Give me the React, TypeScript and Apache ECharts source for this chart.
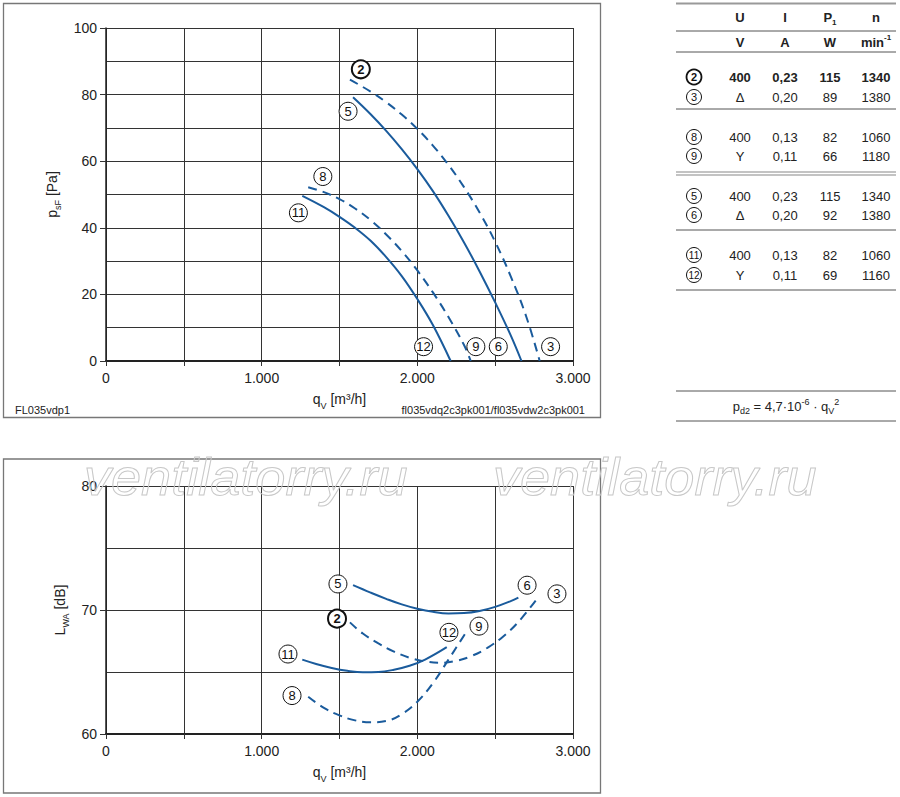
import React, { useEffect, useRef } from 'react';
import * as echarts from 'echarts';

const FONT = '"Liberation Sans", Arial, sans-serif';
const BLUE = '#1a5b9c';
const INK = '#222';

// ---------- axis ticks ----------
const Q_MIN = 0;
const Q_MAX = 3000;
const Q_STEP = 1000;
const P_MIN = 0;
const P_MAX = 100;
const P_STEP = 20;
const L_MIN = 60;
const L_MAX = 80;
const L_STEP = 10;

// ---------- top chart: static pressure psF [Pa] vs qV [m³/h] ----------
const PRESS_2 = [[1567, 84.5], [1700, 80.9], [1800, 77.7], [1900, 74.0], [2000, 69.7], [2100, 64.7], [2200, 58.9], [2300, 52.2], [2400, 44.6], [2500, 35.8], [2600, 25.4], [2700, 13.3], [2786, 0]];
const PRESS_5 = [[1587, 79.2], [1700, 74.1], [1800, 69.1], [1900, 63.6], [2000, 57.6], [2100, 51.0], [2200, 43.6], [2300, 35.6], [2400, 26.9], [2500, 17.6], [2600, 7.7], [2669, 0]];
const PRESS_8 = [[1299, 52.2], [1400, 50.7], [1500, 48.6], [1600, 45.8], [1700, 42.3], [1800, 38.0], [1900, 33.0], [2000, 27.2], [2100, 20.6], [2200, 13.2], [2300, 4.8], [2343, 0]];
const PRESS_11 = [[1261, 49.6], [1400, 46.2], [1500, 43.3], [1600, 40.0], [1700, 36.1], [1800, 31.2], [1900, 25.5], [2000, 18.6], [2100, 10.8], [2214, 0]];
const PRESS_LABELS = [[1555, 75, '5'], [1393, 55.4, '8'], [1236, 44.5, '11'], [2040, 4.3, '12'], [2376, 4.3, '9'], [2520, 4.3, '6'], [2856, 4.3, '3']];
const PRESS_LABELS_BOLD = [[1637, 87.6, '2']];

// ---------- bottom chart: sound power LWA [dB] vs qV [m³/h] ----------
const SOUND_5 = [[1587, 72.0], [1700, 71.4], [1800, 70.9], [1900, 70.45], [2000, 70.1], [2100, 69.85], [2200, 69.72], [2300, 69.75], [2400, 69.92], [2500, 70.25], [2600, 70.72], [2649, 71.0]];
const SOUND_2 = [[1567, 69.0], [1650, 68.1], [1750, 67.3], [1850, 66.65], [1950, 66.15], [2050, 65.85], [2150, 65.75], [2250, 65.9], [2350, 66.3], [2450, 66.95], [2550, 67.85], [2650, 69.05], [2781, 71.1]];
const SOUND_11 = [[1261, 66.0], [1350, 65.65], [1450, 65.33], [1550, 65.1], [1650, 64.98], [1750, 65.0], [1850, 65.18], [1950, 65.5], [2050, 66.0], [2189, 67.0]];
const SOUND_8 = [[1299, 63.0], [1400, 62.1], [1500, 61.5], [1600, 61.1], [1700, 60.95], [1800, 61.05], [1900, 61.6], [2000, 62.6], [2100, 64.1], [2200, 66.0], [2300, 67.95], [2326, 68.45]];
const SOUND_LABELS = [[1490, 72.1, '5'], [2705, 72.0, '6'], [2897, 71.3, '3'], [2203, 68.2, '12'], [2396, 68.7, '9'], [1169, 66.45, '11'], [1195, 63.1, '8']];
const SOUND_LABELS_BOLD = [[1484, 69.3, '2']];

// ---------- table ----------
const TABLE_HEAD = ['U', 'I', 'P1', 'n'];
const TABLE_UNITS = ['V', 'A', 'W', 'min-1'];
const TABLE_IDS = ['2', '3', '8', '9', '5', '6', '11', '12'];
const TABLE_U = ['400', 'Δ', '400', 'Y', '400', 'Δ', '400', 'Y'];
const TABLE_I = ['0,23', '0,20', '0,13', '0,11', '0,23', '0,20', '0,13', '0,11'];
const TABLE_P = ['115', '89', '82', '66', '115', '92', '82', '69'];
const TABLE_N = ['1340', '1380', '1060', '1180', '1340', '1380', '1060', '1160'];
const BOLD_ROWS = [0];

const qFormat = (v: number) => (v === 0 ? '0' : `${Math.round(v / 1000)}.000`);

function makeX(gridIndex: number) {
  return {
    type: 'value',
    gridIndex,
    min: Q_MIN,
    max: Q_MAX,
    interval: Q_STEP,
    position: 'bottom',
    axisLine: { show: true, lineStyle: { color: INK, width: 2 } },
    axisTick: { show: true, length: 5, lineStyle: { color: '#333' } },
    minorTick: { show: true, splitNumber: 2, length: 5, lineStyle: { color: '#333' } },
    splitLine: { show: true, lineStyle: { color: '#333', width: 1 } },
    minorSplitLine: { show: true, lineStyle: { color: '#333', width: 1 } },
    axisLabel: { formatter: qFormat, fontSize: 14, color: INK, margin: 10, fontFamily: FONT, showMaxLabel: true, showMinLabel: true },
    name: '{a|q}{s|V}{a| [m³/h]}',
    nameLocation: 'middle',
    nameGap: 31,
    nameTextStyle: {
      fontFamily: FONT,
      rich: {
        a: { fontSize: 14, color: INK, fontFamily: FONT, lineHeight: 18, verticalAlign: 'top' },
        s: { fontSize: 9, color: INK, fontFamily: FONT, lineHeight: 10, verticalAlign: 'bottom' },
      },
    },
  };
}

function makeY(gridIndex: number, min: number, max: number, step: number, main: string, sub: string, unit: string) {
  return {
    type: 'value',
    gridIndex,
    min,
    max,
    interval: step,
    axisLine: { show: true, lineStyle: { color: INK, width: 1.5 } },
    axisTick: { show: true, length: 6, lineStyle: { color: '#333' } },
    minorTick: { show: false, splitNumber: 2 },
    splitLine: { show: true, lineStyle: { color: '#333', width: 1 } },
    minorSplitLine: { show: true, lineStyle: { color: '#333', width: 1 } },
    axisLabel: { fontSize: 14, color: INK, margin: 9, fontFamily: FONT },
    name: `{a|${main}}{s|${sub}}{a| ${unit}}`,
    nameLocation: 'middle',
    nameGap: 31,
    nameRotate: 90,
    nameTextStyle: {
      fontFamily: FONT,
      rich: {
        a: { fontSize: 14, color: INK, fontFamily: FONT, lineHeight: 18, verticalAlign: 'top' },
        s: { fontSize: 9, color: INK, fontFamily: FONT, lineHeight: 10, verticalAlign: 'bottom' },
      },
    },
  };
}

function curve(data: number[][], idx: number, dashed: boolean) {
  return {
    type: 'line',
    xAxisIndex: idx,
    yAxisIndex: idx,
    data,
    smooth: 0.4,
    showSymbol: false,
    symbol: 'none',
    silent: true,
    z: 3,
    lineStyle: { color: BLUE, width: 2, type: dashed ? [9, 6] : 'solid' },
  };
}

function labels(data: any[], idx: number, bold: boolean) {
  return {
    type: 'scatter',
    xAxisIndex: idx,
    yAxisIndex: idx,
    data,
    symbol: 'circle',
    symbolSize: 18,
    silent: true,
    z: 5,
    itemStyle: { color: '#fff', borderColor: '#111', borderWidth: bold ? 2 : 1, opacity: 1 },
    label: {
      show: true,
      position: 'inside',
      formatter: (p: any) => p.value[2],
      color: '#111',
      fontSize: 13,
      fontWeight: bold ? 'bold' : 'normal',
      fontFamily: FONT,
    },
  };
}

function buildTable(): any[] {
  const els: any[] = [];
  const x0 = 676;
  const x1 = 896;
  const cols = [740, 785, 830, 876];
  const hline = (y: number, color: string, w: number) => ({
    type: 'line',
    shape: { x1: x0, y1: y, x2: x1, y2: y },
    style: { stroke: color, lineWidth: w },
  });
  els.push(hline(3.5, '#999', 2));
  els.push(hline(31, '#555', 1));
  els.push(hline(52, '#555', 1));
  els.push(hline(109, '#555', 1));
  els.push(hline(172, '#888', 1.2));
  els.push(hline(175, '#888', 1.2));
  els.push(hline(230, '#555', 1));
  els.push(hline(290, '#555', 1));
  els.push(hline(391, '#555', 1));
  els.push(hline(421, '#555', 1));

  const richBase = {
    a: { fontSize: 13, fontWeight: 'bold', fontFamily: FONT, fill: INK, lineHeight: 18, verticalAlign: 'middle' },
    s: { fontSize: 8, fontWeight: 'bold', fontFamily: FONT, fill: INK, lineHeight: 8, verticalAlign: 'bottom' },
    u: { fontSize: 8, fontWeight: 'bold', fontFamily: FONT, fill: INK, lineHeight: 8, verticalAlign: 'top' },
  };
  const headTxt = (t: string) => (t === 'P1' ? '{a|P}{s|1}' : `{a|${t}}`);
  const unitTxt = (t: string) => (t === 'min-1' ? '{a|min}{u|-1}' : `{a|${t}}`);
  TABLE_HEAD.forEach((t, i) => {
    els.push({ type: 'text', x: cols[i], y: 17, style: { text: headTxt(t), rich: richBase, align: 'center', verticalAlign: 'middle', fill: INK } });
  });
  TABLE_UNITS.forEach((t, i) => {
    els.push({ type: 'text', x: cols[i], y: 42, style: { text: unitTxt(t), rich: richBase, align: 'center', verticalAlign: 'middle', fill: INK } });
  });
  const rowY = [77, 97, 137, 156, 196, 215, 255, 275];
  TABLE_IDS.forEach((id, r) => {
    const y = rowY[r];
    const bold = BOLD_ROWS.includes(r);
    els.push({ type: 'circle', shape: { cx: 694, cy: y, r: 7.5 }, style: { fill: '#fff', stroke: '#111', lineWidth: bold ? 1.8 : 1 } });
    els.push({ type: 'text', x: 694, y, style: { text: id, fontSize: id.length > 1 ? 10 : 11, fontWeight: bold ? 'bold' : 'normal', fontFamily: FONT, fill: '#111', align: 'center', verticalAlign: 'middle' } });
    [TABLE_U[r], TABLE_I[r], TABLE_P[r], TABLE_N[r]].forEach((v, c) => {
      els.push({ type: 'text', x: cols[c], y, style: { text: v, fontSize: 13, fontWeight: bold ? 'bold' : 'normal', fontFamily: FONT, fill: INK, align: 'center', verticalAlign: 'middle' } });
    });
  });

  els.push({
    type: 'text',
    x: 786,
    y: 406,
    style: {
      text: '{a|p}{s|d2}{a| = 4,7·10}{u|-6}{a| · q}{s|V}{u|2}',
      align: 'center',
      verticalAlign: 'middle',
      rich: {
        a: { fontSize: 13, fontFamily: FONT, fill: INK, lineHeight: 18, verticalAlign: 'middle' },
        s: { fontSize: 9, fontFamily: FONT, fill: INK, lineHeight: 9, verticalAlign: 'bottom' },
        u: { fontSize: 9, fontFamily: FONT, fill: INK, lineHeight: 9, verticalAlign: 'top' },
      },
    },
  });
  return els;
}

function buildFrames(): any[] {
  const wm = (x: number) => ({
    type: 'text', x, y: 451, scaleX: 1.04, z: 10,
    style: { text: 'ventilatorry.ru', font: 'italic 52px "Liberation Sans", Arial, sans-serif', fill: 'rgba(255,255,255,0)', stroke: '#c8c8c8', lineWidth: 1, align: 'left', verticalAlign: 'top' },
  });
  return [
    { type: 'rect', shape: { x: 3.5, y: 3.5, width: 597, height: 414 }, style: { fill: 'none', stroke: '#777', lineWidth: 1.3 }, z: 0 },
    { type: 'rect', shape: { x: 3.5, y: 459, width: 597, height: 334 }, style: { fill: 'none', stroke: '#777', lineWidth: 1.3 }, z: 0 },
    { type: 'text', x: 15, y: 410, style: { text: 'FL035vdp1', fontSize: 11, fontFamily: FONT, fill: INK, align: 'left', verticalAlign: 'middle' } },
    { type: 'text', x: 585, y: 410, style: { text: 'fl035vdq2c3pk001/fl035vdw2c3pk001', fontSize: 11, fontFamily: FONT, fill: INK, align: 'right', verticalAlign: 'middle' } },
    wm(84),
    wm(493),
  ];
}

export default function App() {
  const ref = useRef<HTMLDivElement>(null);
  useEffect(() => {
    if (!ref.current) return;
    const chart = echarts.init(ref.current, null, { renderer: 'svg' });
    chart.setOption({
      animation: false,
      backgroundColor: '#fff',
      textStyle: { fontFamily: FONT },
      grid: [
        { left: 106, top: 28, width: 467, height: 333, containLabel: false },
        { left: 106, top: 486, width: 467, height: 248, containLabel: false },
      ],
      xAxis: [makeX(0), makeX(1)],
      yAxis: [
        makeY(0, P_MIN, P_MAX, P_STEP, 'p', 'sF', '[Pa]'),
        makeY(1, L_MIN, L_MAX, L_STEP, 'L', 'WA', '[dB]'),
      ],
      series: [
        curve(PRESS_2, 0, true),
        curve(PRESS_5, 0, false),
        curve(PRESS_8, 0, true),
        curve(PRESS_11, 0, false),
        labels(PRESS_LABELS, 0, false),
        labels(PRESS_LABELS_BOLD, 0, true),
        curve(SOUND_5, 1, false),
        curve(SOUND_2, 1, true),
        curve(SOUND_11, 1, false),
        curve(SOUND_8, 1, true),
        labels(SOUND_LABELS, 1, false),
        labels(SOUND_LABELS_BOLD, 1, true),
      ],
      graphic: [...buildFrames(), ...buildTable()],
    });
    return () => chart.dispose();
  }, []);
  return (
    <div
      ref={ref}
      style={{ position: 'fixed', left: 0, top: 0, width: 900, height: 797, background: '#fff' }}
    />
  );
}
